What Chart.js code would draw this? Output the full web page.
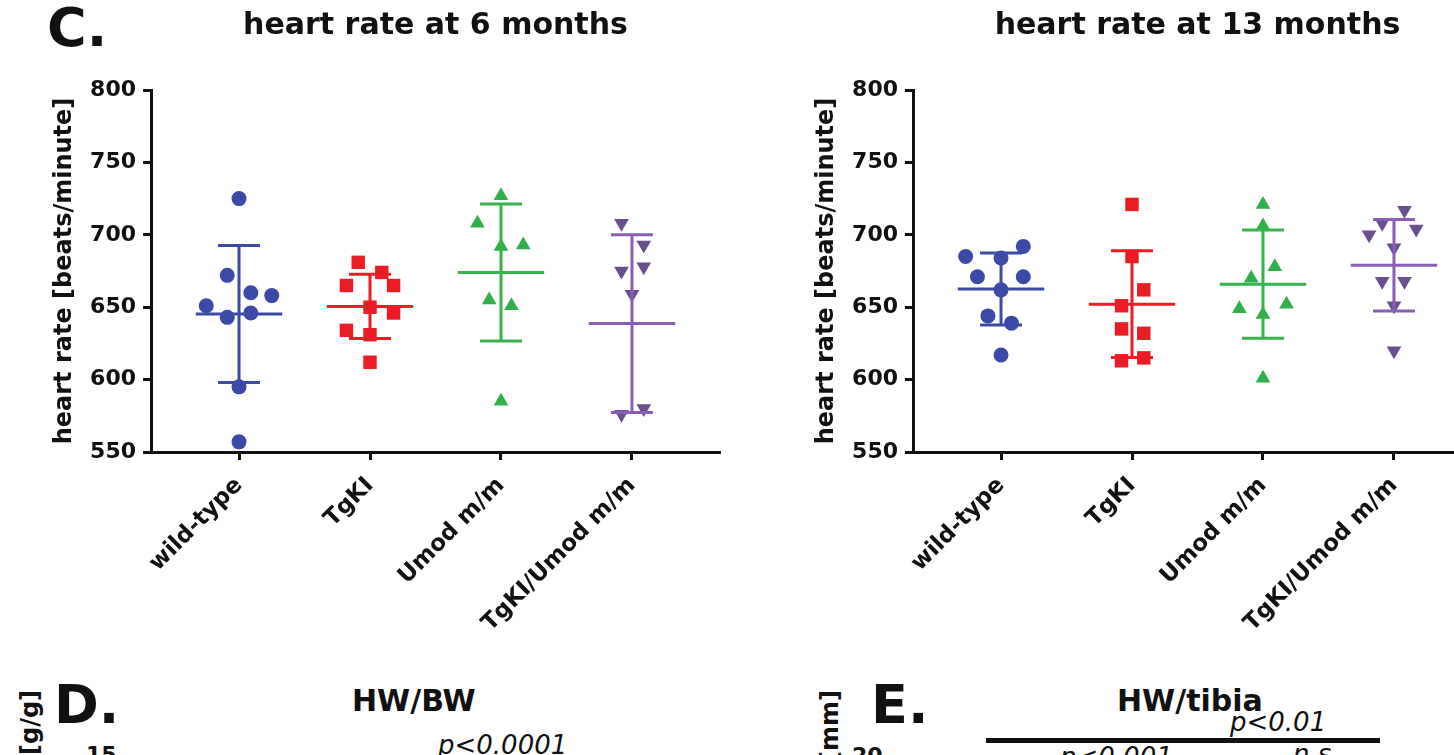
<!DOCTYPE html>
<html>
<head>
<meta charset="utf-8">
<script src="https://cdn.jsdelivr.net/npm/chart.js@4.4.1/dist/chart.umd.min.js"></script>
<style>
  html, body { margin: 0; padding: 0; background: #fff; }
  body { position: relative; width: 1454px; height: 755px; overflow: hidden; font-family: "DejaVu Sans", sans-serif; color: #111; }
  canvas { position: absolute; top: 0; }
  .t { position: absolute; white-space: nowrap; line-height: 1; font-weight: bold; }
  .p { position: absolute; white-space: nowrap; line-height: 1; font-style: italic; font-size: 26px; }
  .rot { transform: rotate(-90deg); transform-origin: left top; font-size: 24px; }
</style>
</head>
<body>
<canvas id="hr6" width="740" height="650" style="left:0px"></canvas>
<canvas id="hr13" width="740" height="650" style="left:762px"></canvas>

<div class="t" style="left:47px; top:1px; font-size:54px;">C.</div>

<!-- lower panels, cut off by the page edge -->
<div class="t" style="left:54px; top:678px; font-size:54px;">D.</div>
<div class="t rot" style="left:18px; top:755px;">[g/g]</div>
<div class="t" style="left:352px; top:686px; font-size:30px;">HW/BW</div>
<div class="p" style="left:438px; top:732px;">p&lt;0.0001</div>
<div class="t" style="left:86px; top:744px; font-size:22px;">15</div>

<div class="t" style="left:871px; top:678px; font-size:54px;">E.</div>
<div class="t rot" style="left:818px; top:762px;">[mm]</div>
<div class="t" style="left:1117px; top:686px; font-size:30px;">HW/tibia</div>
<div class="p" style="left:1230px; top:709px;">p&lt;0.01</div>
<div style="position:absolute; left:986px; top:738px; width:394px; height:5px; background:#111;"></div>
<div class="p" style="left:1060px; top:744px;">p&lt;0.001</div>
<div class="p" style="left:1293px; top:741px;">n.s.</div>
<div class="t" style="left:852px; top:745px; font-size:22px;">20</div>

<script>
// groups on the x axis
const categories = ['wild-type', 'TgKI', 'Umod m/m', 'TgKI/Umod m/m'];
const yTicks = [550, 600, 650, 700, 750, 800];

// heart rate at 6 months (beats/minute), with horizontal scatter offset per point
const hr6WildType = [725, 672, 660, 658, 651, 643, 646, 595, 557];
const hr6WildTypeX = [0, -0.09, 0.09, 0.25, -0.25, -0.09, 0.09, 0, 0];
const hr6TgKI = [681, 674, 665, 665, 650, 646, 634, 631, 612];
const hr6TgKIX = [-0.09, 0.09, -0.18, 0.18, 0, 0.18, -0.18, 0, 0];
const hr6Umod = [727, 708, 693, 692, 655, 651, 585];
const hr6UmodX = [0, -0.18, 0.17, 0, -0.09, 0.08, 0];
const hr6TgKIUmod = [708, 693, 675, 678, 659, 576, 580];
const hr6TgKIUmodX = [-0.08, 0.09, -0.08, 0.09, 0, -0.08, 0.09];
const hr6Mean = [645.3, 650.5, 674, 638.7];
const hr6Sd = [47.3, 22.2, 47.3, 61.4];

// heart rate at 13 months
const hr13WildType = [685, 684, 692, 671, 671, 662, 644, 639, 617];
const hr13WildTypeX = [-0.27, 0, 0.17, -0.18, 0.17, 0, -0.1, 0.08, 0];
const hr13TgKI = [721, 685, 662, 651, 635, 632, 613, 615];
const hr13TgKIX = [0, 0, 0.09, -0.08, -0.08, 0.09, -0.08, 0.09];
const hr13Umod = [721, 706, 678, 670, 649, 652, 645, 601];
const hr13UmodX = [0, 0, 0.09, -0.09, -0.18, 0.18, 0, 0];
const hr13TgKIUmod = [717, 708, 700, 704, 691, 668, 668, 651, 620];
const hr13TgKIUmodX = [0.08, -0.09, -0.19, 0.17, 0, -0.09, 0.08, 0, 0];
const hr13Mean = [662.6, 652.1, 665.9, 679];
const hr13Sd = [24.9, 36.9, 37.4, 31.6];

const markerColors = ['#3b4aa6', '#ec1c24', '#2fb04a', '#6a4f8e'];
const lineColors = ['#3b4aa6', '#ec1c24', '#38b24a', '#8a5eb6'];
const markers = [
  { pointStyle: 'circle', pointRadius: 7.5, rotation: 0 },
  { pointStyle: 'rect', pointRadius: 9.5, rotation: 0 },
  { pointStyle: 'triangle', pointRadius: 8.5, rotation: 0 },
  { pointStyle: 'triangle', pointRadius: 8.5, rotation: 180 },
];

const boldFont = (size) => ({ family: 'DejaVu Sans', weight: 'bold', size: size });

function buildDatasets(values, offsets, means, sds) {
  const sets = [];
  values.forEach((vals, i) => {
    sets.push({
      type: 'scatter',
      data: vals.map((v, k) => ({ x: i + offsets[i][k], y: v })),
      backgroundColor: markerColors[i],
      borderWidth: 0,
      pointStyle: markers[i].pointStyle,
      pointRadius: markers[i].pointRadius,
      rotation: markers[i].rotation,
      clip: false,
      order: 1,
    });
    // mean line with SD whiskers
    const m = means[i], hi = means[i] + sds[i], lo = means[i] - sds[i];
    sets.push({
      type: 'line',
      data: [
        { x: i - 0.33, y: m }, { x: i + 0.33, y: m }, { x: i, y: null },
        { x: i, y: lo }, { x: i, y: hi }, { x: i, y: null },
        { x: i - 0.16, y: hi }, { x: i + 0.16, y: hi }, { x: i, y: null },
        { x: i - 0.16, y: lo }, { x: i + 0.16, y: lo },
      ],
      borderColor: lineColors[i],
      borderWidth: 3,
      borderCapStyle: 'butt',
      pointRadius: 0,
      spanGaps: false,
      tension: 0,
      clip: false,
      order: 0,
    });
  });
  return sets;
}

function renderChart(canvasId, titleText, datasets) {
  return new Chart(document.getElementById(canvasId), {
    type: 'scatter',
    data: { datasets: datasets },
    options: {
      responsive: false,
      animation: false,
      layout: { padding: { top: 0, left: 0, right: 20, bottom: 0 } },
      plugins: {
        legend: { display: false },
        tooltip: { enabled: false },
        title: {
          display: true,
          text: titleText,
          fullSize: false,
          color: '#111',
          font: boldFont(30),
          padding: { top: 8, bottom: 46 },
        },
      },
      scales: {
        x: {
          type: 'linear',
          min: -0.672,
          max: 3.672,
          afterBuildTicks: (s) => { s.ticks = categories.map((c, i) => ({ value: i })); },
          afterFit: (s) => { s.height = 198; },
          ticks: {
            autoSkip: false,
            minRotation: 45,
            maxRotation: 45,
            padding: 12,
            color: '#111',
            font: boldFont(23),
            callback: (v) => categories[v],
          },
          grid: { drawOnChartArea: false, drawTicks: true, tickLength: 8, tickWidth: 3, tickColor: '#111' },
          border: { display: true, color: '#111', width: 3 },
        },
        y: {
          min: yTicks[0],
          max: yTicks[yTicks.length - 1],
          afterBuildTicks: (s) => { s.ticks = yTicks.map((v) => ({ value: v })); },
          afterFit: (s) => { s.width = 151; },
          ticks: { padding: 7, color: '#111', font: boldFont(22) },
          grid: { drawOnChartArea: false, drawTicks: true, tickLength: 8, tickWidth: 3, tickColor: '#111' },
          border: { display: true, color: '#111', width: 3 },
          title: {
            display: true,
            text: 'heart rate [beats/minute]',
            color: '#111',
            font: boldFont(24),
            padding: { top: 50, bottom: 0 },
          },
        },
      },
    },
  });
}

renderChart('hr6', 'heart rate at 6 months',
  buildDatasets([hr6WildType, hr6TgKI, hr6Umod, hr6TgKIUmod],
    [hr6WildTypeX, hr6TgKIX, hr6UmodX, hr6TgKIUmodX], hr6Mean, hr6Sd));

renderChart('hr13', 'heart rate at 13 months',
  buildDatasets([hr13WildType, hr13TgKI, hr13Umod, hr13TgKIUmod],
    [hr13WildTypeX, hr13TgKIX, hr13UmodX, hr13TgKIUmodX], hr13Mean, hr13Sd));
</script>
</body>
</html>
